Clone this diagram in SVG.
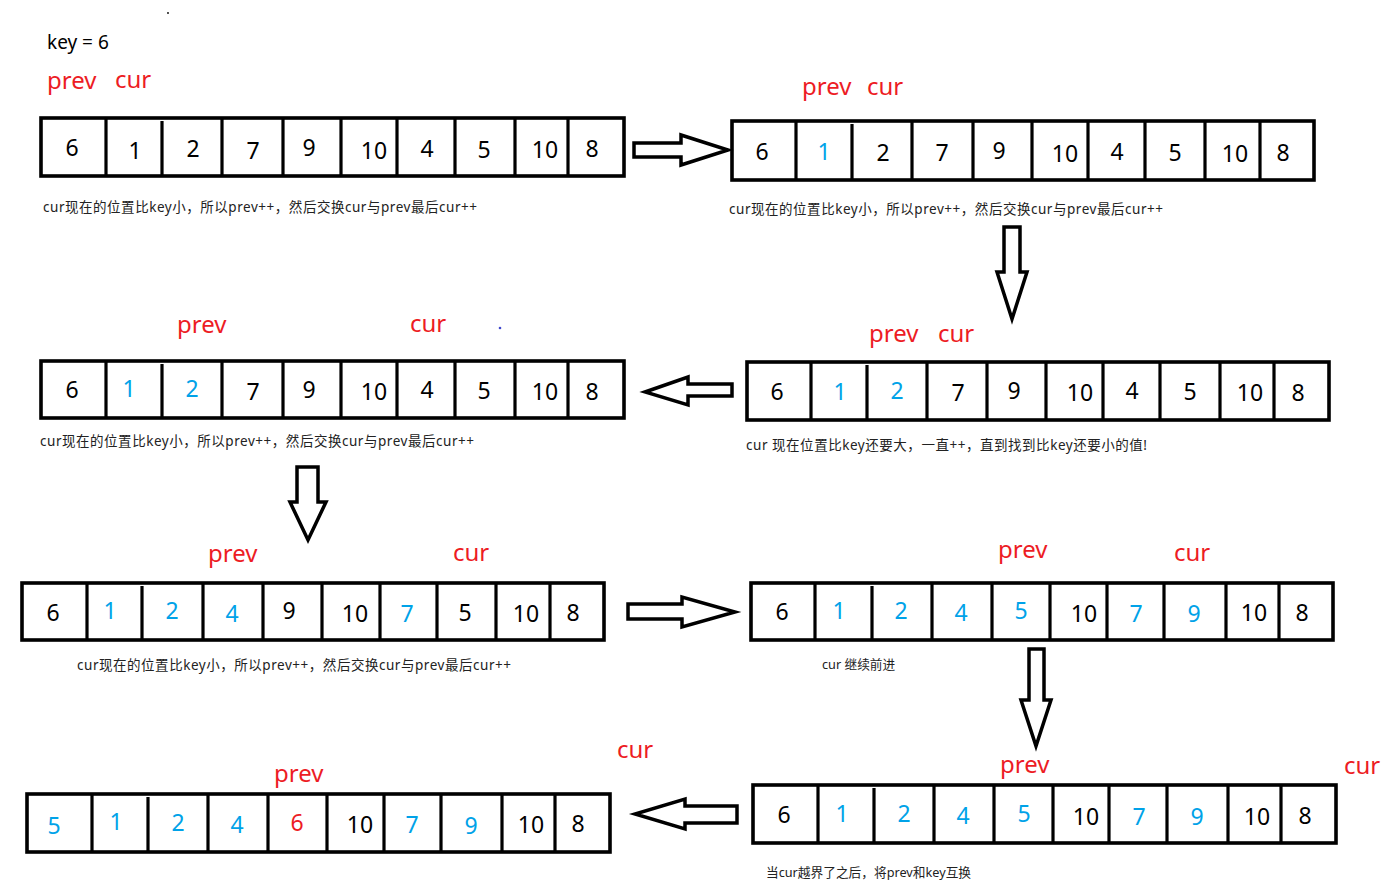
<svg xmlns="http://www.w3.org/2000/svg" width="1389" height="896" viewBox="0 0 1389 896">
<style>
.box{fill:#fff;stroke:#000;stroke-width:3.6}
.div{stroke:#000;stroke-width:3.2}
.n{font-family:"Noto Sans","DejaVu Sans",sans-serif;font-size:23px;text-anchor:middle;fill:#000}
.b{fill:#00a2e8}
.r{fill:#ed1c24}
.lbl{font-family:"Noto Sans","DejaVu Sans",sans-serif;font-size:24px;fill:#ed1c24}
.cap{font-family:"Noto Sans","Noto Sans CJK SC",sans-serif;font-size:13.5px;fill:#222}
.cap2{font-family:"Noto Sans","Noto Sans CJK SC",sans-serif;font-size:12.7px;fill:#222}
.arr{fill:#fff;stroke:#000;stroke-width:3.5;stroke-linejoin:miter}
</style>
<rect width="1389" height="896" fill="#fff"/>
<text x="47" y="49" style="font-family:'Noto Sans',sans-serif;font-size:19px;fill:#000">key = 6</text>
<circle cx="168" cy="13" r="0.9" fill="#000"/>
<circle cx="500" cy="328" r="1.3" fill="#3f48cc"/>

<g id="array1">
<rect class="box" x="41" y="118" width="583" height="58"/>
<path class="div" d="M106 118V176M162 121V176M222 118V176M283 118V176M341 118V176M397 118V176M455 118V176M515 118V176M568 118V176"/>
<text class="n" x="72" y="156">6</text><text class="n" x="135" y="159">1</text><text class="n" x="193" y="157">2</text><text class="n" x="253" y="159">7</text><text class="n" x="309" y="156">9</text><text class="n" x="374" y="159">10</text><text class="n" x="427" y="157">4</text><text class="n" x="484" y="158">5</text><text class="n" x="545" y="158">10</text><text class="n" x="592" y="157">8</text>
<text class="lbl" x="47" y="89">prev</text><text class="lbl" x="115" y="88">cur</text>
<text class="cap" x="43" y="212" textLength="434">cur现在的位置比key小，所以prev++，然后交换cur与prev最后cur++</text>
</g>

<g id="array2">
<rect class="box" x="732" y="121" width="582" height="59"/>
<path class="div" d="M796 121V180M852 124V180M912 121V180M973 121V180M1032 121V180M1088 121V180M1145 121V180M1205 121V180M1260 121V180"/>
<text class="n" x="762" y="160">6</text><text class="n b" x="824" y="160">1</text><text class="n" x="883" y="161">2</text><text class="n" x="942" y="161">7</text><text class="n" x="999" y="159">9</text><text class="n" x="1065" y="162">10</text><text class="n" x="1117" y="160">4</text><text class="n" x="1175" y="161">5</text><text class="n" x="1235" y="162">10</text><text class="n" x="1283" y="161">8</text>
<text class="lbl" x="802" y="95">prev</text><text class="lbl" x="867" y="95">cur</text>
<text class="cap" x="729" y="214" textLength="434">cur现在的位置比key小，所以prev++，然后交换cur与prev最后cur++</text>
</g>

<g id="array3">
<rect class="box" x="747" y="362" width="582" height="58"/>
<path class="div" d="M811 362V420M867 365V420M927 362V420M987 362V420M1046 362V420M1103 362V420M1160 362V420M1220 362V420M1274 362V420"/>
<text class="n" x="777" y="400">6</text><text class="n b" x="840" y="400">1</text><text class="n b" x="897" y="399">2</text><text class="n" x="958" y="401">7</text><text class="n" x="1014" y="399">9</text><text class="n" x="1080" y="401">10</text><text class="n" x="1132" y="399">4</text><text class="n" x="1190" y="400">5</text><text class="n" x="1250" y="401">10</text><text class="n" x="1298" y="401">8</text>
<text class="lbl" x="869" y="342">prev</text><text class="lbl" x="938" y="342">cur</text>
<text class="cap" x="746" y="450" textLength="401">cur 现在位置比key还要大，一直++，直到找到比key还要小的值!</text>
</g>

<g id="array4">
<rect class="box" x="41" y="361" width="583" height="57"/>
<path class="div" d="M106 361V418M162 364V418M222 361V418M283 361V418M341 361V418M397 361V418M455 361V418M515 361V418M568 361V418"/>
<text class="n" x="72" y="398">6</text><text class="n b" x="129" y="397">1</text><text class="n b" x="192" y="397">2</text><text class="n" x="253" y="400">7</text><text class="n" x="309" y="398">9</text><text class="n" x="374" y="400">10</text><text class="n" x="427" y="398">4</text><text class="n" x="484" y="399">5</text><text class="n" x="545" y="400">10</text><text class="n" x="592" y="400">8</text>
<text class="lbl" x="177" y="333">prev</text><text class="lbl" x="410" y="332">cur</text>
<text class="cap" x="40" y="446" textLength="434">cur现在的位置比key小，所以prev++，然后交换cur与prev最后cur++</text>
</g>

<g id="array5">
<rect class="box" x="22" y="583" width="582" height="57"/>
<path class="div" d="M87 583V640M142 586V640M203 583V640M263 583V640M322 583V640M380 583V640M437 583V640M496 583V640M550 583V640"/>
<text class="n" x="53" y="621">6</text><text class="n b" x="110" y="619">1</text><text class="n b" x="172" y="619">2</text><text class="n b" x="232" y="622">4</text><text class="n" x="289" y="619">9</text><text class="n" x="355" y="622">10</text><text class="n b" x="407" y="622">7</text><text class="n" x="465" y="621">5</text><text class="n" x="526" y="622">10</text><text class="n" x="573" y="621">8</text>
<text class="lbl" x="208" y="562">prev</text><text class="lbl" x="453" y="561">cur</text>
<text class="cap" x="77" y="670" textLength="434">cur现在的位置比key小，所以prev++，然后交换cur与prev最后cur++</text>
</g>

<g id="array6">
<rect class="box" x="751" y="583" width="582" height="57"/>
<path class="div" d="M815 583V640M872 586V640M932 583V640M992 583V640M1050 583V640M1107 583V640M1164 583V640M1226 583V640M1279 583V640"/>
<text class="n" x="782" y="620">6</text><text class="n b" x="839" y="619">1</text><text class="n b" x="901" y="619">2</text><text class="n b" x="961" y="621">4</text><text class="n b" x="1021" y="619">5</text><text class="n" x="1084" y="622">10</text><text class="n b" x="1136" y="622">7</text><text class="n b" x="1194" y="622">9</text><text class="n" x="1254" y="621">10</text><text class="n" x="1302" y="621">8</text>
<text class="lbl" x="998" y="558">prev</text><text class="lbl" x="1174" y="561">cur</text>
<text class="cap2" x="822" y="669">cur 继续前进</text>
</g>

<g id="array7">
<rect class="box" x="753" y="785" width="583" height="58"/>
<path class="div" d="M818 785V843M874 788V843M934 785V843M994 785V843M1053 785V843M1109 785V843M1167 785V843M1228 785V843M1281 785V843"/>
<text class="n" x="784" y="823">6</text><text class="n b" x="842" y="822">1</text><text class="n b" x="904" y="822">2</text><text class="n b" x="963" y="824">4</text><text class="n b" x="1024" y="822">5</text><text class="n" x="1086" y="825">10</text><text class="n b" x="1139" y="825">7</text><text class="n b" x="1197" y="825">9</text><text class="n" x="1257" y="825">10</text><text class="n" x="1305" y="824">8</text>
<text class="lbl" x="1000" y="773">prev</text><text class="lbl" x="1344" y="774">cur</text>
<text class="cap2" x="766" y="877">当cur越界了之后，将prev和key互换</text>
</g>

<g id="array8">
<rect class="box" x="27" y="794" width="583" height="58"/>
<path class="div" d="M92 794V852M148 797V852M208 794V852M268 794V852M327 794V852M384 794V852M441 794V852M502 794V852M555 794V852"/>
<text class="n b" x="54" y="834">5</text><text class="n b" x="116" y="830">1</text><text class="n b" x="178" y="831">2</text><text class="n b" x="237" y="833">4</text><text class="n r" x="297" y="831">6</text><text class="n" x="360" y="833">10</text><text class="n b" x="412" y="833">7</text><text class="n b" x="471" y="834">9</text><text class="n" x="531" y="833">10</text><text class="n" x="578" y="832">8</text>
<text class="lbl" x="274" y="782">prev</text><text class="lbl" x="617" y="758">cur</text>
</g>

<g id="connectors">
<polygon class="arr" points="634,143 681,143 681,135 728,150 681,165 681,157 634,157"/>
<polygon class="arr" points="1004,227 1020,227 1020,272 1027,272 1012,319 997,272 1004,272"/>
<polygon class="arr" points="732,384 688,384 688,377 645,392 688,405 688,396 732,396"/>
<polygon class="arr" points="297,467 318,467 318,502 326,502 308,540 290,502 297,502"/>
<polygon class="arr" points="628,604 682,604 682,597 735,612 682,627 682,619 628,619"/>
<polygon class="arr" points="1029,649 1044,649 1044,700 1051,700 1036,746 1021,700 1029,700"/>
<polygon class="arr" points="737,806 685,806 685,799 635,814 685,829 685,823 737,823"/>
</g>
</svg>
